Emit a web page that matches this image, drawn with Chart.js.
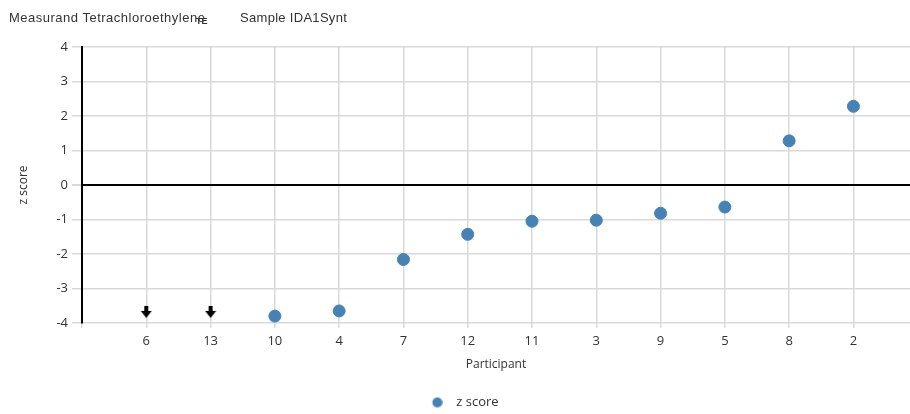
<!DOCTYPE html>
<html>
<head>
<meta charset="utf-8">
<script src="https://cdn.jsdelivr.net/npm/chart.js"></script>
<style>
  html, body { margin: 0; padding: 0; background: #fff; }
  #wrap { position: relative; width: 910px; height: 414px; overflow: hidden; }
  #title { position: absolute; left: 0; top: 0; width: 910px; height: 40px; font-family: "Liberation Sans", Arial, sans-serif; font-size: 13px; color: #333; }
  #title span { position: absolute; white-space: nowrap; }
</style>
</head>
<body>
<div id="wrap">
  <canvas id="c" width="910" height="414"></canvas>
  <div id="title">
    <span style="left:9px; top:10px; letter-spacing:0.5px;">Measurand Tetrachloroethylene</span>
    <span style="left:196px; top:16px; font-size:9px; font-weight:bold;">TE</span>
    <span style="left:240px; top:10px; letter-spacing:0.3px;">Sample IDA1Synt</span>
  </div>
</div>
<script>
const participants = ["6", "13", "10", "4", "7", "12", "11", "3", "9", "5", "8", "2"];
const zScores = [null, null, -3.80, -3.65, -2.16, -1.43, -1.05, -1.02, -0.82, -0.64, 1.28, 2.28];
const offScaleLow = [-3.65, -3.65, null, null, null, null, null, null, null, null, null, null];
const yTicks = [-4, -3, -2, -1, 0, 1, 2, 3, 4];

const POINT_COLOR = '#4682b4';

// arrow marker for off-scale values
const arrow = document.createElement('canvas');
arrow.width = 12; arrow.height = 16;
(function () {
  const g = arrow.getContext('2d');
  g.fillStyle = '#000';
  g.fillRect(4, 3, 4, 7);
  g.beginPath();
  g.moveTo(0.5, 8); g.lineTo(11.5, 8); g.lineTo(6, 15); g.closePath();
  g.fill();
})();

// legend marker: circle placed right of centre so the legend item lines up with the reference
const legendDot = document.createElement('canvas');
legendDot.width = 24; legendDot.height = 12;
(function () {
  const g = legendDot.getContext('2d');
  g.fillStyle = POINT_COLOR;
  g.beginPath();
  g.arc(18.75, 6, 5, 0, Math.PI * 2);
  g.fill();
})();

const pts = zScores.map((v, i) => v === null ? null : { x: i, y: v }).filter(p => p);
const arr = offScaleLow.map((v, i) => v === null ? null : { x: i, y: v }).filter(p => p);

const GRID = '#d9d9d9';
const FONT = "'Open Sans', 'Liberation Sans', sans-serif";

new Chart(document.getElementById('c'), {
  type: 'scatter',
  data: {
    datasets: [
      {
        label: 'z score',
        data: pts,
        backgroundColor: POINT_COLOR,
        borderColor: POINT_COLOR,
        pointRadius: 6,
        pointHoverRadius: 6,
        pointStyle: 'circle'
      },
      {
        label: 'off-scale',
        data: arr,
        pointStyle: arrow,
        pointRadius: 6
      }
    ]
  },
  options: {
    responsive: false,
    animation: false,
    layout: { autoPadding: false, padding: { top: 47, left: 0, right: 0, bottom: -5 } },
    plugins: {
      tooltip: { enabled: false },
      legend: {
        position: 'bottom',
        labels: {
          usePointStyle: true,
          boxHeight: 12,
          pointStyleWidth: 38.5,
          padding: 0,
          color: '#333',
          font: { family: FONT, size: 13 },
          generateLabels: chart => [{
            text: 'z score',
            fillStyle: POINT_COLOR,
            strokeStyle: POINT_COLOR,
            lineWidth: 0,
            pointStyle: legendDot,
            hidden: false,
            datasetIndex: 0,
            fontColor: '#333'
          }]
        }
      }
    },
    scales: {
      x: {
        type: 'linear',
        min: -1,
        max: 11.88,
        afterFit: s => { s.height = 73; s.paddingRight = 0; s.paddingLeft = 0; },
        afterBuildTicks: s => { s.ticks = [{ value: -1 }].concat(participants.map((p, i) => ({ value: i }))); },
        ticks: {
          callback: v => (v >= 0 && v < participants.length) ? participants[v] : '',
          color: '#333',
          font: { family: FONT, size: 13 },
          padding: 5,
          maxRotation: 0,
          autoSkip: false
        },
        grid: { color: GRID, lineWidth: 1.5, tickLength: 5, tickColor: GRID, drawTicks: true },
        border: { display: false },
        title: { display: true, text: 'Participant', color: '#333', font: { family: FONT, size: 12 }, padding: { top: 0, bottom: 24 } }
      },
      y: {
        min: -4,
        max: 4,
        afterFit: s => { s.width = 82; },
        afterBuildTicks: s => { s.ticks = yTicks.map(v => ({ value: v })); },
        ticks: {
          color: '#333',
          font: { family: FONT, size: 13 },
          padding: 4
        },
        grid: {
          color: c => c.tick && c.tick.value === 0 ? '#000' : GRID,
          lineWidth: c => c.tick && c.tick.value === 0 ? 2 : 1.5,
          tickLength: 10,
          tickColor: GRID
        },
        border: { display: true, color: '#000', width: 2 },
        title: { display: true, text: 'z score', color: '#333', font: { family: FONT, size: 12 }, padding: { top: 16, bottom: 0 } }
      }
    }
  }
});
</script>
</body>
</html>
